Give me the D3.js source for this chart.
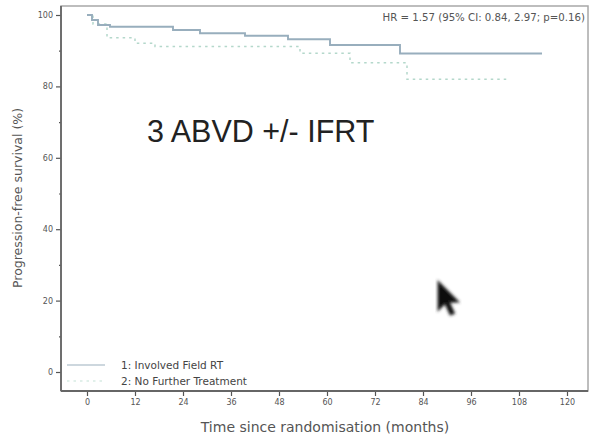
<!DOCTYPE html>
<html>
<head>
<meta charset="utf-8">
<script src="https://cdn.jsdelivr.net/npm/d3@7"></script>
<style>
  html, body { margin: 0; padding: 0; background: #fff; }
  svg { display: block; }
</style>
</head>
<body>
<svg id="chart"></svg>
<script>
// Kaplan-Meier estimates (months, % progression-free)
const ifrtTime = [0, 1.25, 2.75, 5.75, 21.5, 28.25, 39.5, 50.25, 60.75, 78.25, 113.75]
const ifrtSurv = [100, 98.6, 97.2, 96.7, 95.8, 94.9, 94.2, 93.2, 91.6, 89.2, 89.2]
const nftTime = [0, 1.5, 5, 12, 17, 53.25, 65.75, 80, 105]
const nftSurv = [100, 97.5, 93.6, 92.1, 91.2, 89.3, 86.6, 82.0, 82.0]

const xTicks = [0, 12, 24, 36, 48, 60, 72, 84, 96, 108, 120]
const yTicks = [0, 20, 40, 60, 80, 100]
const yMinor = [10, 30, 50, 70, 90]
const legendLabels = ["1: Involved Field RT", "2: No Further Treatment"]
const hrText = "HR = 1.57 (95% CI: 0.84, 2.97; p=0.16)"
const annotation = "3 ABVD +/- IFRT"

const width = 592, height = 441
const frame = { left: 61, right: 588, top: 6, bottom: 391 }

const svg = d3.select("#chart").attr("width", width).attr("height", height)

const x = d3.scaleLinear().domain([0, 120]).range([87, 567])
const y = d3.scaleLinear().domain([0, 100]).range([372, 15])

const ifrtColor = "#98aebd"
const nftColor = "#b4d8cb"

const defs = svg.append("defs")
defs.append("filter").attr("id", "soft")
    .append("feGaussianBlur").attr("stdDeviation", 0.9)

// frame
svg.append("rect")
    .attr("x", frame.left).attr("y", frame.top)
    .attr("width", frame.right - frame.left)
    .attr("height", frame.bottom - frame.top)
    .attr("fill", "none")
    .attr("stroke", "#a8a8a8")
    .attr("stroke-width", 1.5)

// axes
const xAxis = d3.axisBottom(x).tickValues(xTicks).tickSize(5).tickPadding(3)
const gx = svg.append("g")
    .attr("transform", `translate(0,${frame.bottom})`)
    .call(xAxis)
gx.select(".domain").remove()

const yAxis = d3.axisLeft(y).tickValues(yTicks).tickSize(5).tickPadding(3)
const gy = svg.append("g")
    .attr("transform", `translate(${frame.left},0)`)
    .call(yAxis)
gy.select(".domain").remove()

svg.append("g")
    .attr("transform", `translate(${frame.left},0)`)
    .call(d3.axisLeft(y).tickValues(yMinor).tickSize(2).tickFormat(""))
    .select(".domain").remove()

svg.selectAll(".tick line").attr("stroke", "#555").attr("stroke-width", 1.2)
svg.selectAll(".tick text")
    .attr("fill", "#555")
    .style("font-family", "DejaVu Sans")
    .style("font-size", "8px")

svg.append("line")
    .attr("x1", frame.left).attr("x2", frame.left)
    .attr("y1", frame.top).attr("y2", frame.bottom)
    .attr("stroke", "#666").attr("stroke-width", 1.8)
svg.append("line")
    .attr("x1", frame.left).attr("x2", frame.right)
    .attr("y1", frame.bottom).attr("y2", frame.bottom)
    .attr("stroke", "#666").attr("stroke-width", 1.8)

// curves
const km = d3.line()
    .x(d => x(d[0]))
    .y(d => y(d[1]))
    .curve(d3.curveStepAfter)

svg.append("path")
    .datum(d3.zip(nftTime, nftSurv))
    .attr("d", km)
    .attr("fill", "none")
    .attr("stroke", nftColor)
    .attr("stroke-width", 1.5)
    .attr("stroke-dasharray", "2.5,4")

svg.append("path")
    .datum(d3.zip(ifrtTime, ifrtSurv))
    .attr("d", km)
    .attr("fill", "none")
    .attr("stroke", ifrtColor)
    .attr("stroke-width", 1.9)

// legend
const legend = svg.append("g").attr("transform", "translate(67,365)")
legendLabels.forEach((lab, i) => {
    const row = legend.append("g").attr("transform", `translate(0,${i * 16})`)
    row.append("line")
        .attr("x1", 0).attr("x2", 38)
        .attr("stroke", i === 0 ? "#bccad3" : "#d8ebe4")
        .attr("stroke-width", 1.4)
        .attr("stroke-dasharray", i === 0 ? null : "2.5,4")
    row.append("text")
        .attr("x", 54).attr("dy", "0.35em")
        .attr("fill", "#444")
        .style("font-family", "DejaVu Sans")
        .style("font-size", "10.5px")
        .text(lab)
})

// texts
svg.append("text")
    .attr("x", 585).attr("y", 21)
    .attr("text-anchor", "end")
    .attr("fill", "#555")
    .style("font-family", "DejaVu Sans")
    .style("font-size", "10.2px")
    .text(hrText)

svg.append("text")
    .attr("x", 147).attr("y", 142)
    .attr("fill", "#222")
    .style("font-family", "Liberation Sans")
    .style("font-size", "30.5px")
    .text(annotation)

svg.append("text")
    .attr("transform", `translate(22,198) rotate(-90)`)
    .attr("text-anchor", "middle")
    .attr("fill", "#555")
    .style("font-family", "DejaVu Sans")
    .style("font-size", "12.5px")
    .text("Progression-free survival (%)")

svg.append("text")
    .attr("x", 325).attr("y", 432)
    .attr("text-anchor", "middle")
    .attr("fill", "#555")
    .style("font-family", "DejaVu Sans")
    .style("font-size", "14px")
    .text("Time since randomisation (months)")

// mouse pointer seen in the photo
svg.append("path")
    .attr("transform", "translate(438,281) scale(1.75)")
    .attr("d", "M0,0 L0,17 L4,13 L7,19.5 L9.5,18.5 L6.6,12.2 L12,12 Z")
    .attr("fill", "#111")
    .attr("stroke", "#333")
    .attr("stroke-width", 0.6)
    .attr("filter", "url(#soft)")
</script>
</body>
</html>
